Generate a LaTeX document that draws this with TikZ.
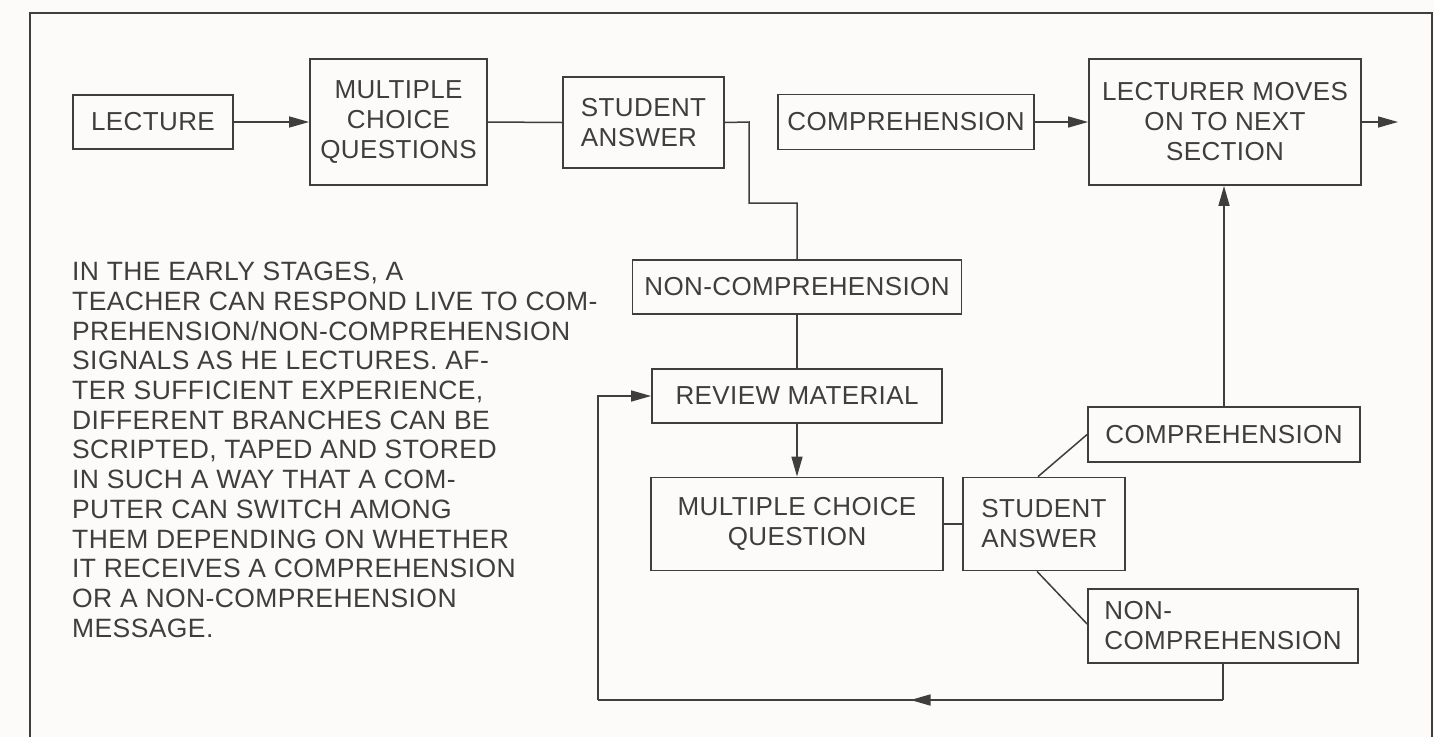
\documentclass[tikz,border=0pt]{standalone}
\usepackage{fontspec}
\setmainfont[LetterSpace=1.5]{Liberation Sans}
\usetikzlibrary{arrows.meta,decorations.markings}
\definecolor{ink}{HTML}{3E3E3E}
\definecolor{paper}{HTML}{FCFBF9}
\begin{document}
\begin{tikzpicture}[x=1pt,y=-1pt,
  every node/.style={font=\fontsize{26}{30}\selectfont, text=ink},
  box/.style={draw=ink, line width=1.8pt, rectangle, inner sep=0pt, align=center},
  lbox/.style={box, align=left},
  conn/.style={draw=ink, line width=1.5pt},
  arr/.style={conn, -{Triangle[length=20pt,width=11pt]}}
]
\fill[paper] (0,0) rectangle (1434,737);
\useasboundingbox (0,0) rectangle (1434,737);
% frame
\draw[ink, line width=1.8pt] (30,737) -- (30,13) -- (1432,13) -- (1432,737);

% top row
\node[box, minimum width=160pt, minimum height=54pt] (lecture) at (153,122) {LECTURE};
\node[box, minimum width=177pt, minimum height=126pt] (mcq1) at (398.5,122) {MULTIPLE\\CHOICE\\QUESTIONS};
\node[lbox, minimum width=161pt, minimum height=91pt] (sa1) at (643.5,122.5) {STUDENT\\ANSWER};
\node[box, minimum width=256pt, minimum height=55pt] (comp1) at (906,122) {COMPREHENSION};
\node[box, minimum width=272pt, minimum height=126pt] (lect) at (1225,122) {LECTURER MOVES\\ON TO NEXT\\SECTION};
\coordinate (out) at (1398,122);

% middle column
\node[box, minimum width=329pt, minimum height=54pt] (nc1) at (797,287) {NON-COMPREHENSION};
\node[box, minimum width=290pt, minimum height=54pt] (rm) at (797,396) {REVIEW MATERIAL};
\node[box, minimum width=292pt, minimum height=93pt] (mcq2) at (797,524) {MULTIPLE CHOICE\\QUESTION};
\node[lbox, minimum width=162pt, minimum height=93pt] (sa2) at (1044,524) {STUDENT\\ANSWER};
\node[box, minimum width=272pt, minimum height=55pt] (comp2) at (1224,434.5) {COMPREHENSION};
\node[lbox, minimum width=270pt, minimum height=74pt] (nc2) at (1223,626) {NON-\\COMPREHENSION};

% connectors
\draw[arr] (lecture.east) -- (mcq1.west);
\draw[conn] (mcq1.east) -- (sa1.west);
\draw[conn] (sa1.east) -- (749,122) -- (749,203) -- (797,203) -- (nc1.north);
\draw[arr] (comp1.east) -- (lect.west);
\draw[arr] (lect.east) -- (out);
\draw[conn] (nc1.south) -- (rm.north);
\draw[arr] (rm.south) -- (mcq2.north);
\draw[conn] (mcq2.east) -- (sa2.west);
\draw[conn] ([xshift=-6pt]sa2.north) -- (comp2.west);
\draw[conn] ([xshift=-7pt]sa2.south) -- ([yshift=2pt]nc2.west);
\draw[arr] (comp2.north) -- (comp2.north |- lect.south);
\coordinate (fbA) at (1223,700);
\coordinate (fbB) at (598,700);
\coordinate (fbC) at (598,396);
\draw[conn] (nc2.south) -- (fbA);
\draw[conn, postaction={decorate}, decoration={markings, mark=at position 0.5 with {\arrow{Triangle[length=20pt,width=11pt]}}}]
  (fbA) -- (fbB);
\draw[arr] (fbB) -- (fbC) -- (rm.west);

% explanatory text
\node[anchor=north west, align=left, inner sep=0pt, font=\fontsize{26.5}{29.7}\selectfont] (expl) at (72,262) {IN THE EARLY STAGES, A\\
TEACHER CAN RESPOND LIVE TO COM-\\
PREHENSION/NON-COMPREHENSION\\
SIGNALS AS HE LECTURES. AF-\\
TER SUFFICIENT EXPERIENCE,\\
DIFFERENT BRANCHES CAN BE\\
SCRIPTED, TAPED AND STORED\\
IN SUCH A WAY THAT A COM-\\
PUTER CAN SWITCH AMONG\\
THEM DEPENDING ON WHETHER\\
IT RECEIVES A COMPREHENSION\\
OR A NON-COMPREHENSION\\
MESSAGE.};
\end{tikzpicture}
\end{document}
